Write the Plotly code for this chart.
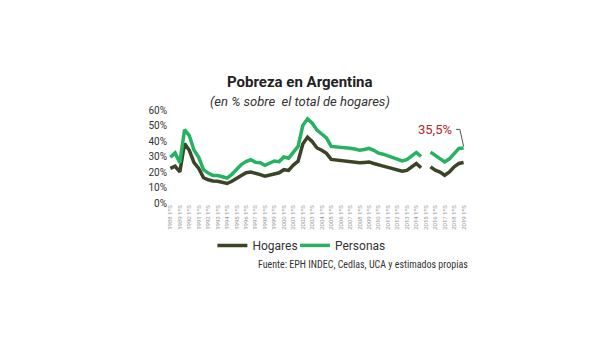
import plotly.graph_objects as go

# Semiannual periods 1988 1S ... 2019 1S
years = list(range(1988, 2020))
periods = []
for y in years:
    periods.append(f"{y} 1ºS")
    periods.append(f"{y} 2ºS")
periods = periods[:63]

hogares = [22.3, 23.8, 20.0, 38.4, 34.0, 26.0, 22.3, 16.4, 15.0, 14.2,
           14.0, 13.5, 12.6, 14.0, 15.8, 18.0, 19.5, 20.0, 19.4, 18.3,
           17.3, 18.2, 19.0, 19.5, 21.5, 21.0, 24.5, 27.0, 38.0, 42.5,
           39.5, 35.5, 34.0, 32.0, 28.1, 27.8, 27.6, 27.3, 27.0, 26.5,
           25.9, 26.2, 26.5, 25.5, 24.4, 23.8, 23.0, 22.3, 21.5, 20.5,
           21.0, 23.5, 25.5, 22.7, None, 23.3, 21.2, 20.0, 17.9, 20.0,
           23.4, 25.5, 26.1]

personas = [29.5, 32.3, 26.0, 47.3, 43.5, 34.0, 29.5, 21.5, 19.3, 17.8,
            17.7, 16.8, 16.1, 18.5, 22.0, 24.8, 26.7, 27.9, 26.3, 26.0,
            24.3, 25.9, 27.1, 26.7, 29.7, 28.9, 33.0, 36.5, 50.0, 54.3,
            51.5, 47.0, 44.5, 42.0, 36.5, 36.3, 36.2, 35.8, 35.3, 34.8,
            34.1, 34.5, 35.3, 34.0, 32.2, 31.5, 30.5, 29.4, 28.5, 27.2,
            28.0, 30.5, 32.6, 30.0, None, 32.8, 30.5, 28.6, 26.5, 28.5,
            31.5, 35.2, 35.5]

y_ticks = [0, 10, 20, 30, 40, 50, 60]
y_labels = ["0%", "10%", "20%", "30%", "40%", "50%", "60%"]

idx = list(range(len(periods)))
tick_idx = idx[::2]
tick_text = periods[::2]

c_hog = "#3a4527"
c_per = "#25b261"

fig = go.Figure()
fig.add_trace(go.Scatter(x=idx, y=hogares, mode="lines", name="Hogares", legend="legend",
                         line=dict(color=c_hog, width=3.5), connectgaps=False))
fig.add_trace(go.Scatter(x=idx, y=personas, mode="lines", name="Personas", legend="legend2",
                         line=dict(color=c_per, width=3.5), connectgaps=False))

last_i = idx[-1]
last_v = personas[-1]
last_label = f"{last_v:.1f}%".replace(".", ",")

fig.add_shape(type="path", xref="x", yref="y",
              path=f"M {last_i-1.6} {last_v+12} L {last_i-0.8} {last_v+12} L {last_i} {last_v+1}",
              line=dict(color="#555555", width=1))

annotations = [
    dict(x=0.443, y=1.30, xref="paper", yref="paper", text="<b>Pobreza en Argentina</b>",
         showarrow=False, xanchor="center", yanchor="middle",
         font=dict(family="Roboto", size=15, color="#222222")),
    dict(x=0.443, y=1.095, xref="paper", yref="paper", text="<i>(en % sobre  el total de hogares)</i>",
         showarrow=False, xanchor="center", yanchor="middle",
         font=dict(family="Roboto", size=13, color="#333333")),
    dict(x=0.296, y=-0.661, xref="paper", yref="paper",
         text="Fuente: EPH INDEC, Cedlas, UCA y estimados propias",
         showarrow=False, xanchor="left", yanchor="middle",
         font=dict(family="Roboto Condensed, Liberation Sans Narrow, DejaVu Sans Condensed, Roboto",
                   size=10, color="#333333")),
    dict(x=last_i - 2.0, y=last_v + 12, xref="x", yref="y",
         text=last_label, showarrow=False, xanchor="right", yanchor="middle",
         font=dict(family="Roboto", size=13, color="#b3262b")),
]

legend_font = dict(family="Roboto", size=12, color="#333333")

# the page body has an 8px margin, so margins are reduced by 8px
fig.update_layout(
    width=610, height=355,
    margin=dict(l=159.6, r=151.6, t=102, b=160.3, autoexpand=False),
    paper_bgcolor="white", plot_bgcolor="white",
    showlegend=True,
    legend=dict(orientation="h", x=0.149, y=-0.456, xanchor="left", yanchor="middle",
                font=legend_font, itemwidth=30, bgcolor="rgba(0,0,0,0)"),
    legend2=dict(orientation="h", x=0.426, y=-0.456, xanchor="left", yanchor="middle",
                 font=legend_font, itemwidth=30, bgcolor="rgba(0,0,0,0)"),
    annotations=annotations,
)

fig.update_xaxes(range=[-0.5, 62.5], tickmode="array", tickvals=tick_idx, ticktext=tick_text,
                 tickangle=-90, tickfont=dict(family="Roboto", size=6, color="#999999"),
                 showgrid=False, zeroline=False, showline=False, ticks="")
fig.update_yaxes(range=[0, 60], tickmode="array", tickvals=y_ticks, ticktext=y_labels,
                 tickfont=dict(family="Roboto", size=10, color="#333333"),
                 showgrid=False, zeroline=False, showline=False, ticks="")

fig.write_html("out.html")
